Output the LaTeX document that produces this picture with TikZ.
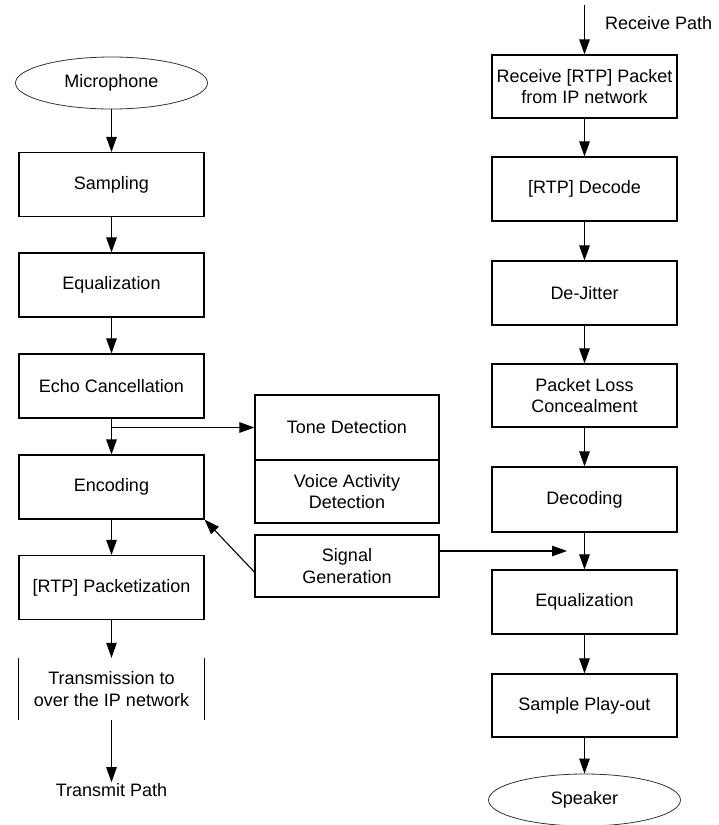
\documentclass[tikz,border=0pt]{standalone}
\usepackage{fontspec}
\setmainfont{Liberation Sans}
\usetikzlibrary{arrows.meta,shapes.geometric}

\begin{document}
\begin{tikzpicture}[x=1pt,y=-1pt,
  font=\fontsize{18}{21.5}\selectfont,
  stage/.style={draw, line width=1.2pt, rectangle, minimum width=185pt,
    minimum height=64pt, align=center, inner sep=2pt},
  sidebox/.style={draw, line width=1.2pt, rectangle, minimum width=184pt,
    align=center, inner sep=2pt},
  endpoint/.style={draw=black!80, line width=0.8pt, ellipse,
    minimum width=192pt, minimum height=52pt, inner sep=0pt},
  arr/.style={line width=1.1pt, -{Triangle[length=15pt,width=10.5pt]}},
  bare/.style={align=center, inner sep=1pt}]
  \useasboundingbox (0,0) rectangle (718,825);

  % transmit path (left column)
  \node[endpoint] (mic) at (111.5,83) {Microphone};
  \node[stage] (samp) at (111.5,184.5) {Sampling};
  \node[stage] (eqtx) at (111.5,285) {Equalization};
  \node[stage] (echo) at (111.5,386) {Echo Cancellation};
  \node[stage] (enc)  at (111.5,487) {Encoding};
  \node[stage] (pkt)  at (111.5,587.5) {[RTP] Packetization};
  \node[bare, minimum width=185pt, minimum height=62pt] (trans) at (111.5,689)
    {Transmission to\\over the IP network};
  \node[bare] (txpath) at (111.5,790) {Transmit Path};

  % side functions
  \node[sidebox, minimum height=65pt] (tone)  at (347,427.5) {Tone Detection};
  \node[sidebox, minimum height=63pt] (vad)   at (347,491.5) {Voice Activity\\Detection};
  \node[sidebox, minimum height=62pt] (sig)   at (347,566)   {Signal\\Generation};

  % receive path (right column)
  \coordinate (rxin) at (584.5,5);
  \node[bare, anchor=west] (rxpath) at (604,23) {Receive Path};
  \node[stage, minimum height=63pt] (recv) at (584.5,86.5) {Receive [RTP] Packet\\from IP network};
  \node[stage] (rdec)  at (584.5,189)   {[RTP] Decode};
  \node[stage] (djit)  at (584.5,293)   {De-Jitter};
  \node[stage, minimum height=63pt] (plc) at (584.5,395.5) {Packet Loss\\Concealment};
  \node[stage, minimum height=65pt] (dec) at (584.5,499.5) {Decoding};
  \node[stage] (eqrx)  at (584.5,602)   {Equalization};
  \node[stage, minimum height=63pt] (play) at (584.5,705.5) {Sample Play-out};
  \node[endpoint] (spk) at (584.5,800) {Speaker};

  % transmission "box" shows only its side rules
  \draw[line width=1.2pt] (trans.north west) -- (trans.south west);
  \draw[line width=1.2pt] (trans.north east) -- (trans.south east);

  % transmit flow
  \draw[arr] (mic) -- (samp);
  \draw[arr] (samp) -- (eqtx);
  \draw[arr] (eqtx) -- (echo);
  \draw[arr] (echo) -- (enc);
  \draw[arr] (enc) -- (pkt);
  \draw[arr] (pkt) -- (trans);
  \draw[arr] (trans) -- (txpath);

  % branch to detection and signal generation links
  \draw[arr] (echo.south |- tone.west) -- (tone.west);
  \draw[arr] ([yshift=-6pt]sig.west) -- (enc.south east);
  \coordinate (sgtip) at (567,551);
  \draw[arr] (sig.east |- sgtip) -- (sgtip);

  % receive flow
  \draw[arr] (rxin) -- (recv);
  \draw[arr] (recv) -- (rdec);
  \draw[arr] (rdec) -- (djit);
  \draw[arr] (djit) -- (plc);
  \draw[arr] (plc) -- (dec);
  \draw[arr] (dec) -- (eqrx);
  \draw[arr] (eqrx) -- (play);
  \draw[arr] (play) -- (spk);
\end{tikzpicture}
\end{document}
